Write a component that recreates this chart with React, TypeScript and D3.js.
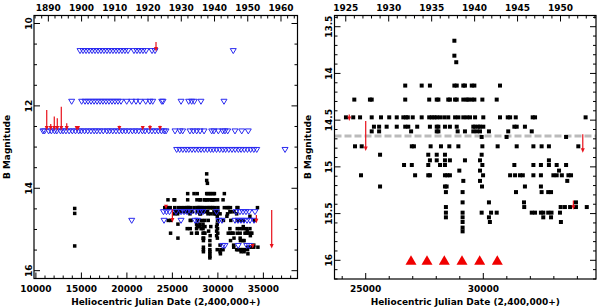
import React, { useEffect, useRef } from 'react';
import * as d3 from 'd3';

// photometry: [HJD - 2400000, B magnitude]
const blackPts: [number, number][] = [
  [14264, 14.49], [14264, 14.61], [14264, 15.4],
  [28770, 13.65], [28770, 13.81], [28850, 13.88],
  // ~14.13
  [26680, 14.13], [27380, 14.13], [27730, 14.13], [28770, 14.13], [28870, 14.13], [29150, 14.13], [29220, 14.13], [29510, 14.13], [29620, 14.13], [30710, 14.13],
  // ~14.28
  [24515, 14.28], [25180, 14.28], [25255, 14.28], [26680, 14.28], [27700, 14.28], [28020, 14.28], [28090, 14.28], [28510, 14.28], [28580, 14.28], [28800, 14.28],
  [28870, 14.28], [29150, 14.28], [29295, 14.28], [29360, 14.28], [29510, 14.28], [29620, 14.28], [29960, 14.28], [30570, 14.28],
  // ~14.47
  [24160, 14.47], [24470, 14.47], [24760, 14.47], [25255, 14.47], [25650, 14.47], [26000, 14.47], [26320, 14.47], [26600, 14.47], [26710, 14.47], [26790, 14.47],
  [27000, 14.47], [27380, 14.47], [27700, 14.47], [27810, 14.47], [27920, 14.47], [28020, 14.47], [28160, 14.47], [28340, 14.47], [28510, 14.47], [28800, 14.47],
  [28940, 14.47], [29150, 14.47], [29295, 14.47], [29435, 14.47], [29650, 14.47], [30000, 14.47], [30710, 14.47], [31040, 14.47], [31140, 14.47], [31380, 14.47],
  [32100, 14.47], [32200, 14.47], [34350, 14.47],
  // ~14.57
  [25350, 14.57], [25570, 14.57], [25890, 14.57], [26320, 14.57], [26680, 14.57], [26810, 14.57], [27190, 14.57], [27730, 14.57], [28020, 14.57], [28090, 14.57],
  [28370, 14.57], [28580, 14.57], [28870, 14.57], [29575, 14.57], [29650, 14.57], [29790, 14.57], [29860, 14.57], [30000, 14.57], [31320, 14.57], [31420, 14.57], [31770, 14.57],
  // ~14.62
  [25255, 14.62], [25570, 14.62], [26930, 14.62], [28020, 14.62], [28090, 14.62], [28910, 14.62], [29220, 14.62], [29575, 14.62], [29720, 14.62], [29860, 14.62],
  [30240, 14.62], [31060, 14.62], [32060, 14.62],
  [29930, 14.68], [30990, 14.68], [33520, 14.68],
  // ~14.78
  [24545, 14.78], [24830, 14.78], [26960, 14.78], [27050, 14.78], [27760, 14.78], [28200, 14.78], [28555, 14.78], [28940, 14.78], [29960, 14.78], [30610, 14.78],
  [31420, 14.78], [32130, 14.78], [32480, 14.78], [32790, 14.78], [34040, 14.78],
  [25610, 14.87], [27660, 14.87], [28020, 14.87], [28370, 14.87], [29930, 14.87],
  [27730, 14.93], [28020, 14.93], [28370, 14.93], [28580, 14.93], [29220, 14.93], [29860, 14.93], [32790, 14.93],
  [26630, 14.98], [26960, 14.98], [27660, 14.98], [28160, 14.98], [28370, 14.98], [29960, 14.98], [31320, 14.98], [32130, 14.98], [32450, 14.98], [32790, 14.98],
  [33120, 14.98], [33520, 14.98],
  [28980, 15.04], [29860, 15.04], [33220, 15.04],
  [24800, 15.09], [27100, 15.09], [27660, 15.09], [27730, 15.09], [28370, 15.09], [28470, 15.09], [28580, 15.09], [29990, 15.09], [31140, 15.09], [31350, 15.09],
  [31560, 15.09], [31680, 15.09], [32130, 15.09], [32450, 15.09], [32980, 15.09], [33120, 15.09], [33340, 15.09], [33620, 15.09], [33730, 15.09],
  [29150, 15.15], [29860, 15.15], [33570, 15.15],
  [25610, 15.21], [28370, 15.21], [28440, 15.21], [29945, 15.21], [31770, 15.21], [32450, 15.21],
  [28410, 15.27], [29120, 15.27], [31390, 15.27], [32480, 15.27], [32760, 15.27], [32880, 15.27],
  [29120, 15.38], [30240, 15.38], [31730, 15.38], [33940, 15.38],
  [28410, 15.43], [31740, 15.43], [33290, 15.43], [33470, 15.43], [33690, 15.43], [33940, 15.43], [34400, 15.43],
  [28410, 15.49], [29120, 15.49], [29930, 15.49], [30330, 15.49], [30570, 15.49], [32060, 15.49], [32200, 15.49], [32450, 15.49], [32550, 15.49], [32760, 15.49],
  [32900, 15.49], [33260, 15.49],
  [28410, 15.54], [29120, 15.54], [30240, 15.54], [32550, 15.54], [32880, 15.54],
  [29120, 15.59], [30280, 15.59], [33300, 15.59],
  [29120, 15.65], [29120, 15.69],
];

// upper limits (open triangles), left panel only
const limits1067 = [14850, 15180, 15510, 15840, 16170, 16500, 16830, 17150, 17480, 17810, 18140, 18470, 18800, 19130, 19460, 19790, 20120,
  20780, 21110, 21440, 21770, 22100, 22760, 23090, 31690];
const limits1190 = [13930, 15030, 15400, 15730, 16060, 16390, 16720, 17050, 17370, 17700, 18030, 18360, 18690, 19020, 19350, 19980, 20530,
  21000, 21440, 22070, 22540, 22840, 23830, 23970, 25950, 26790, 27120, 27410, 28140, 30670];
const limits1262 = [10780, 10950, 11400, 11700, 12050, 12300, 12700, 12980, 13300, 13650, 14000, 14350, 14700, 15000, 15350, 15700, 16050,
  16400, 16700, 17050, 17400, 17800, 18100, 18450, 18800, 19150, 19500, 19850, 20200, 20600, 20950, 21300, 21700, 22000, 22400, 22750,
  23100, 23450, 23800, 24100, 24300, 25290, 25840, 26130, 26930, 27300, 27670, 28040, 28480, 29320, 29570, 30050, 30530, 30780, 31080,
  31880, 32620, 33340];
const limits1307 = [25470, 25800, 26150, 26500, 26800, 27150, 27500, 27850, 28150, 28500, 28850, 29200, 29500, 29850, 30200, 30550,
  30850, 31200, 31550, 31900, 32250, 32550, 32900, 33250, 33600, 33950, 34270, 37380];
const limits1458 = [24020, 24350, 24680, 25400, 25950, 26280, 26610, 27050, 27600, 28040, 28370, 29850, 31990, 32430, 32760, 33090, 33420, 34080];
const limits1479 = [20530, 24080, 25950, 27490, 27760, 30120, 30450, 31880, 32210, 32540, 32870, 33200, 33530, 33970];
const limits1540 = [30530, 30780, 32240, 33170, 33450];

// red arrows: [HJD, start mag, end mag]
const redArrows: [number, number, number][] = [
  [11190, 12.1, 12.6], [11630, 12.44, 12.6], [12020, 12.26, 12.6], [12350, 12.3, 12.6], [12790, 12.02, 12.6], [13390, 12.42, 12.6],
  [14480, 12.5, 12.6], [14630, 12.5, 12.6], [19170, 12.48, 12.6], [21740, 12.5, 12.6], [22540, 12.47, 12.6], [23640, 12.48, 12.6],
  [23200, 10.45, 10.68],
  [24300, 14.44, 14.51], [25000, 14.51, 14.83], [34230, 14.65, 14.85], [33830, 15.36, 15.46], [35915, 14.53, 15.46],
];

// red triangles along the bottom of the right panel
const markerJD = [26926, 27606, 28342, 29094, 29847, 30595];
const markerMag = 16.0;
const refMag = 14.67;

const leftYearTicks = [1890, 1900, 1910, 1920, 1930, 1940, 1950, 1960];
const rightYearTicks = [1925, 1930, 1935, 1940, 1945, 1950];
const leftJDTicks = [10000, 15000, 20000, 25000, 30000, 35000];
const rightJDTicks = [25000, 30000];
const leftMagTicks = [10, 12, 14, 16];
const rightMagTicks = [13.5, 14, 14.5, 15, 15.5, 16];

const yearToJD = (y: number) => 15020.5 + (y - 1900) * 365.25;
const FONT = 'DejaVu Sans, sans-serif';

const App = () => {
  const ref = useRef<SVGSVGElement>(null);

  useEffect(() => {
    const svg = d3.select(ref.current);
    svg.selectAll('*').remove();

    const drawPanel = (p: any) => {
      const x = d3.scaleLinear().domain(p.xDomain).range([p.x0, p.x1]);
      const y = d3.scaleLinear().domain(p.yDomain).range([p.y0, p.y1]);
      const g = svg.append('g');
      const clipId = 'clip' + p.id;
      g.append('clipPath').attr('id', clipId).append('rect')
        .attr('x', p.x0).attr('y', p.y0).attr('width', p.x1 - p.x0).attr('height', p.y1 - p.y0);
      const plot = g.append('g').attr('clip-path', `url(#${clipId})`);

      if (p.refLine) {
        plot.append('line').attr('x1', p.x0).attr('x2', p.x1).attr('y1', y(refMag)).attr('y2', y(refMag))
          .attr('stroke', '#bbbbbb').attr('stroke-width', 3).attr('stroke-dasharray', '7,3');
      }

      const s = p.sq;
      plot.selectAll('rect.pt').data(blackPts).enter().append('rect')
        .attr('x', d => x(d[0]) - s / 2).attr('y', d => y(d[1]) - s / 2)
        .attr('width', s).attr('height', s).attr('fill', '#000');

      if (p.limits) {
        const rows: [number[], number][] = [
          [limits1067, 10.67], [limits1190, 11.9], [limits1262, 12.62], [limits1307, 13.07],
          [limits1458, 14.58], [limits1479, 14.79], [limits1540, 15.4],
        ];
        rows.forEach(([jds, m]) => {
          plot.selectAll(null).data(jds).enter().append('path')
            .attr('d', d => `M${x(d) - 3},${y(m) - 2.5}L${x(d) + 3},${y(m) - 2.5}L${x(d)},${y(m) + 2.5}Z`)
            .attr('fill', 'none').attr('stroke', '#2a2af0').attr('stroke-width', 1);
        });
      }

      redArrows.forEach(([jd, m0, m1]) => {
        const xx = x(jd);
        const ya = y(m0);
        const yb = y(m1);
        plot.append('line').attr('x1', xx).attr('x2', xx).attr('y1', ya).attr('y2', yb - 3)
          .attr('stroke', '#e8101a').attr('stroke-width', 1.2);
        plot.append('path').attr('d', `M${xx - 2},${yb - 4.5}L${xx + 2},${yb - 4.5}L${xx},${yb}Z`).attr('fill', '#e8101a');
      });

      if (p.markers) {
        plot.selectAll(null).data(markerJD).enter().append('path')
          .attr('d', d => `M${x(d) - 5.5},${y(markerMag) + 4.5}L${x(d) + 5.5},${y(markerMag) + 4.5}L${x(d)},${y(markerMag) - 5}Z`)
          .attr('fill', '#f00000');
      }

      // frame
      g.append('rect').attr('x', p.x0).attr('y', p.y0).attr('width', p.x1 - p.x0).attr('height', p.y1 - p.y0)
        .attr('fill', 'none').attr('stroke', '#000').attr('stroke-width', 1.2);

      const tick = (x1: number, y1: number, x2: number, y2: number) =>
        g.append('line').attr('x1', x1).attr('y1', y1).attr('x2', x2).attr('y2', y2).attr('stroke', '#000').attr('stroke-width', 1);

      // bottom JD ticks
      const [jA, jB] = p.xDomain;
      for (let v = Math.ceil(jA / 1000) * 1000; v <= jB; v += 1000) {
        const len = v % 5000 === 0 ? 6 : 3;
        tick(x(v), p.y1, x(v), p.y1 - len);
      }
      // top year ticks
      const yrA = Math.ceil(1900 + (jA - 15020.5) / 365.25);
      const yrB = Math.floor(1900 + (jB - 15020.5) / 365.25);
      for (let yr = yrA; yr <= yrB; yr++) {
        if (yr % p.yrMinor !== 0) continue;
        const len = yr % p.yrMajor === 0 ? 6 : 3;
        tick(x(yearToJD(yr)), p.y0, x(yearToJD(yr)), p.y0 + len);
      }
      // mag ticks both sides
      const [mA, mB] = p.yDomain;
      const step = p.magMinor;
      for (let k = Math.ceil(mA / step - 1e-6); k * step <= mB + 1e-6; k++) {
        const v = k * step;
        const isMajor = Math.abs(v / p.magMajor - Math.round(v / p.magMajor)) < 1e-6;
        const len = isMajor ? 6 : 3;
        tick(p.x0, y(v), p.x0 + len, y(v));
        tick(p.x1, y(v), p.x1 - len, y(v));
      }

      const txt = (g as any);
      p.jdTicks.forEach((v: number) => {
        txt.append('text').attr('x', x(v)).attr('y', p.y1 + 13).attr('text-anchor', 'middle')
          .attr('font-family', FONT).attr('font-size', 9).attr('font-weight', 'bold').text(v);
      });
      p.yearTicks.forEach((v: number) => {
        txt.append('text').attr('x', x(yearToJD(v))).attr('y', 11).attr('text-anchor', 'middle')
          .attr('font-family', FONT).attr('font-size', 9).attr('font-weight', 'bold').text(v);
      });
      p.magTicks.forEach((v: number) => {
        txt.append('text').attr('transform', `translate(${p.x0 - 2.5},${y(v)}) rotate(-90)`).attr('text-anchor', 'middle')
          .attr('font-family', FONT).attr('font-size', 9).attr('font-weight', 'bold').text(v);
      });
      txt.append('text').attr('x', (p.x0 + p.x1) / 2).attr('y', 305).attr('text-anchor', 'middle')
        .attr('font-family', FONT).attr('font-size', 9).attr('font-weight', 'bold')
        .text('Heliocentric Julian Date (2,400,000+)');
      txt.append('text').attr('transform', `translate(${p.x0 - 24},147) rotate(-90)`).attr('text-anchor', 'middle')
        .attr('font-family', FONT).attr('font-size', 9).attr('font-weight', 'bold').text('B Magnitude');
    };

    drawPanel({
      id: 'L', x0: 34, x1: 297.5, y0: 15.5, y1: 278.5,
      xDomain: [9791, 38750], yDomain: [9.806, 16.19],
      sq: 3.5, limits: true, markers: false, refLine: false,
      yrMajor: 10, yrMinor: 2, magMajor: 2, magMinor: 0.5,
      jdTicks: leftJDTicks, yearTicks: leftYearTicks, magTicks: leftMagTicks,
    });
    drawPanel({
      id: 'R', x0: 334.5, x1: 596, y0: 15.5, y1: 279,
      xDomain: [23673, 34792], yDomain: [13.38, 16.2],
      sq: 4, limits: false, markers: true, refLine: true,
      yrMajor: 5, yrMinor: 1, magMajor: 0.5, magMinor: 0.1,
      jdTicks: rightJDTicks, yearTicks: rightYearTicks, magTicks: rightMagTicks,
    });
  }, []);

  return (
    <svg ref={ref} width={600} height={308} style={{ position: 'absolute', left: 0, top: 0, background: '#fff' }} />
  );
};

export default App;
